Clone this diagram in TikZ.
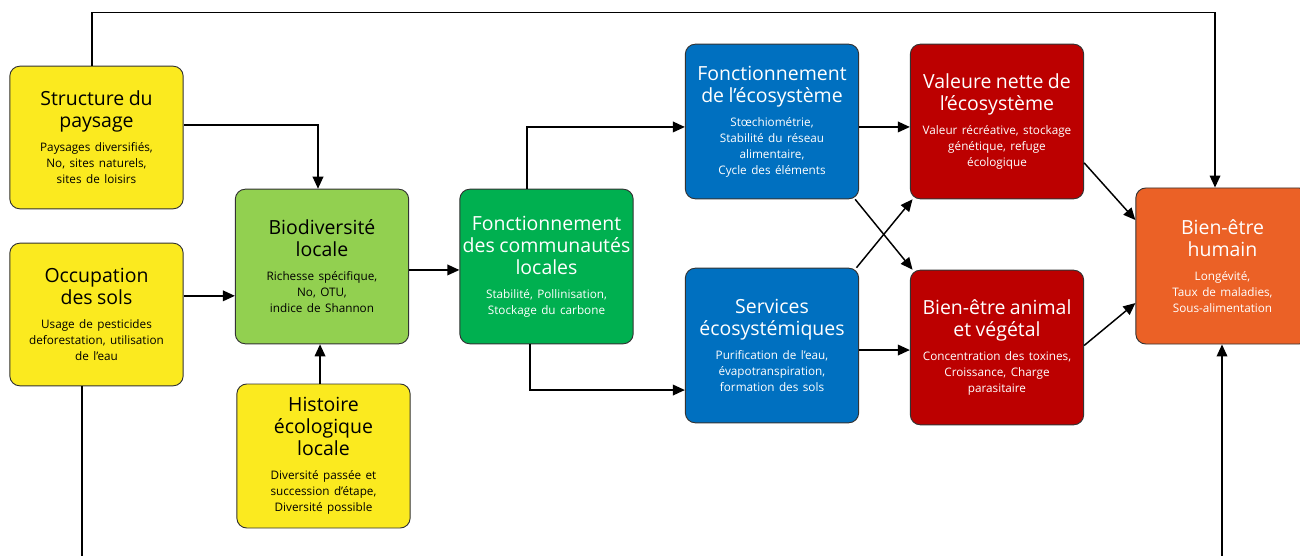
\documentclass[tikz,border=0pt]{standalone}
\usepackage{fontspec}
\setmainfont{Open Sans}
\usetikzlibrary{arrows.meta,calc}
\definecolor{cyellow}{HTML}{FBEA1F}
\definecolor{clgreen}{HTML}{92D050}
\definecolor{cgreen}{HTML}{00B050}
\definecolor{cblue}{HTML}{0070C0}
\definecolor{cred}{HTML}{BC0000}
\definecolor{corange}{HTML}{EB6126}
\newcommand\boxtxt[2]{{\fontsize{14.6}{16.5}\selectfont #1\par}\vspace{6pt}{\fontsize{8.8}{12}\selectfont #2\par}}
\tikzset{
  card/.style={draw=black!80, line width=0.7pt, rounded corners=7.5pt, inner sep=0pt,
    text width=130pt, align=center, minimum height=116pt},
  darkcard/.style={card, text=white},
  lightcard/.style={card, text=black},
  arr/.style={draw=black, line width=1.1pt, -{Triangle[length=9pt,width=8pt]}},
  ln/.style={draw=black, line width=1.1pt},
}
\begin{document}
\begin{tikzpicture}[x=0.75pt,y=-0.75pt]
\useasboundingbox (0,0) rectangle (1300,556);
\node[lightcard, fill=cyellow, minimum height=107pt] (struct) at (96.5,137.5)
  {\boxtxt{Structure du\\paysage}{Paysages diversifiés,\\No, sites naturels,\\sites de loisirs}};
\node[lightcard, fill=cyellow, minimum height=107pt] (occup) at (96.5,314.5)
  {\boxtxt{Occupation\\des sols}{Usage de pesticides\\deforestation, utilisation\\de l’eau}};
\node[lightcard, fill=clgreen] (bio) at (322,266.5)
  {\boxtxt{Biodiversité\\locale}{Richesse spécifique,\\No, OTU,\\indice de Shannon}};
\node[lightcard, fill=cyellow, minimum height=108pt] (hist) at (323.5,456)
  {\boxtxt{Histoire\\écologique\\locale}{Diversité passée et\\succession d’étape,\\Diversité possible}};
\node[darkcard, fill=cgreen] (fcom) at (546.5,266.5)
  {\boxtxt{Fonctionnement\\des communautés\\locales}{Stabilité, Pollinisation,\\Stockage du carbone}};
\node[darkcard, fill=cblue] (feco) at (772,121.5)
  {\boxtxt{Fonctionnement\\de l’écosystème}{Stœchiométrie,\\Stabilité du réseau\\alimentaire,\\Cycle des éléments}};
\node[darkcard, fill=cblue] (serv) at (772,345.5)
  {\boxtxt{Services\\écosystémiques}{Purification de l’eau,\\évapotranspiration,\\formation des sols}};
\node[darkcard, fill=cred] (val) at (997,121.5)
  {\boxtxt{Valeure nette de\\l’écosystème}{Valeur récréative, stockage\\génétique, refuge\\écologique}};
\node[darkcard, fill=cred] (bea) at (997,347.5)
  {\boxtxt{Bien-être animal\\et végétal}{Concentration des toxines,\\Croissance, Charge\\parasitaire}};
\node[darkcard, fill=corange, minimum height=117pt] (beh) at (1222.5,266)
  {\boxtxt{Bien-être\\humain}{Longévité,\\Taux de maladies,\\Sous-alimentation}};
% connectors
\draw[arr] ([xshift=-3.4pt]struct.north) -- ++(0,-53) -| ([xshift=-5.6pt]beh.north);
\draw[arr] ([yshift=9.4pt]struct.east) -| ([xshift=-3pt]bio.north);
\coordinate (o1) at ([yshift=14pt]occup.east);
\draw[arr] (o1) -- (o1 -| bio.west);
\draw[arr] ([xshift=-2.6pt]hist.north) -- ([xshift=-2.6pt]hist.north |- bio.south);
\draw[arr] ([yshift=-2.6pt]bio.east) -- ([yshift=-2.6pt]fcom.west);
\draw[arr] ([xshift=-14.6pt]fcom.north) |- ([yshift=-4.1pt]feco.west);
\draw[arr] ([xshift=-12.4pt]fcom.south) |- ([yshift=-33.4pt]serv.west);
\draw[arr] ([yshift=-4.1pt]feco.east) -- ([yshift=-4.1pt]val.west);
\draw[arr] ([xshift=-3pt]feco.south east) -- ([xshift=2pt]bea.north west);
\draw[arr] ([xshift=-2pt]serv.north east) -- ([xshift=2pt]val.south west);
\coordinate (s1) at ([yshift=-3.4pt]serv.east);
\draw[arr] (s1) -- (s1 -| bea.west);
\draw[arr] ([yshift=-31pt]val.east) -- ([yshift=34.5pt]beh.west);
\draw[arr] ([yshift=1.5pt]bea.east) -- ([yshift=-27.8pt]beh.west);
\coordinate (bl) at (82,556);
\coordinate (br) at (1222,556);
\draw[ln] (bl |- occup.south) -- (bl);
\draw[arr] (br) -- (br |- beh.south);
\end{tikzpicture}
\end{document}
